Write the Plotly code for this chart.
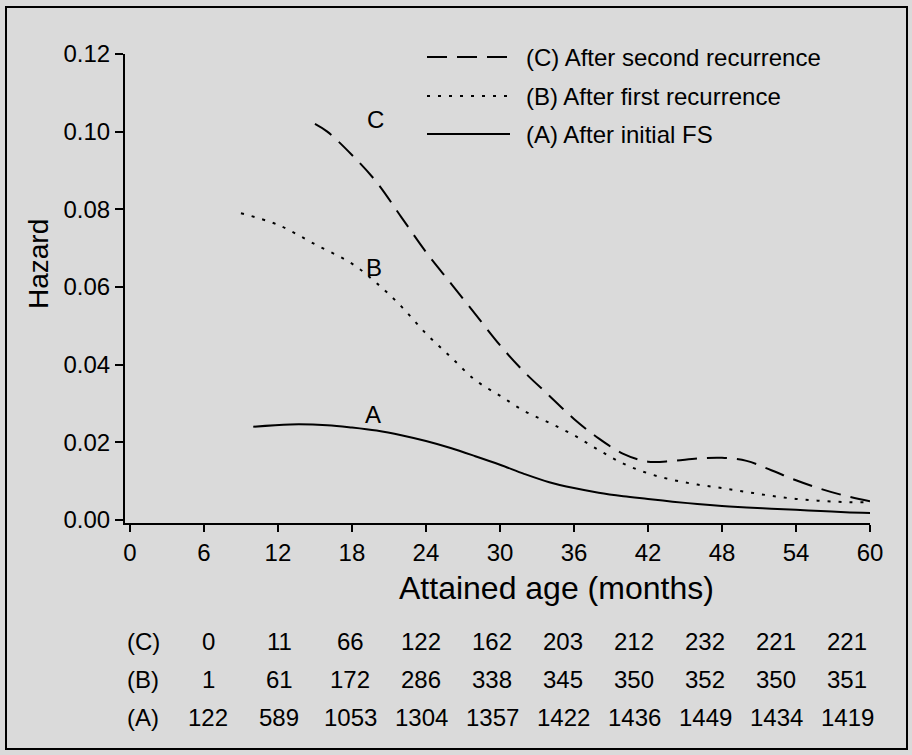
import plotly.graph_objects as go

# ---------------- data ----------------
months_C = [15, 16, 18, 20, 22, 24, 26, 28, 30, 32, 34, 36, 38, 40, 42, 44, 46, 48, 50, 52, 54, 56, 58, 60]
hazard_C = [0.102, 0.100, 0.094, 0.087, 0.078, 0.069, 0.061, 0.053, 0.045, 0.038, 0.032, 0.026, 0.021, 0.0170, 0.0150,
            0.0152, 0.0158, 0.0160, 0.0152, 0.0128, 0.0102, 0.0080, 0.0062, 0.0048]

months_B = [9, 12, 15, 18, 20, 22, 24, 26, 28, 30, 32, 34, 36, 38, 40, 42, 44, 46, 48, 50, 52, 54, 56, 58, 60]
hazard_B = [0.079, 0.076, 0.071, 0.066, 0.061, 0.055, 0.048, 0.042, 0.036, 0.032, 0.028, 0.025, 0.0218, 0.0180, 0.0145,
            0.0120, 0.0103, 0.0091, 0.0082, 0.0072, 0.0062, 0.0054, 0.0049, 0.0046, 0.0045]

months_A = [10, 13, 16, 18, 20, 22, 24, 26, 28, 30, 32, 34, 36, 38, 40, 42, 44, 46, 48, 50, 52, 54, 56, 58, 60]
hazard_A = [0.0240, 0.0246, 0.0244, 0.0238, 0.0230, 0.0218, 0.0203, 0.0185, 0.0164, 0.0142, 0.0118, 0.0097, 0.0082,
            0.0070, 0.0061, 0.0054, 0.0047, 0.0041, 0.0036, 0.0032, 0.0029, 0.0026, 0.0023, 0.0020, 0.0018]

x_ticks = [0, 6, 12, 18, 24, 30, 36, 42, 48, 54, 60]
y_ticks = [0.00, 0.02, 0.04, 0.06, 0.08, 0.10, 0.12]

table_months = [6, 12, 18, 24, 30, 36, 42, 48, 54, 60]
at_risk_C = [0, 11, 66, 122, 162, 203, 212, 232, 221, 221]
at_risk_B = [1, 61, 172, 286, 338, 345, 350, 352, 350, 351]
at_risk_A = [122, 589, 1053, 1304, 1357, 1422, 1436, 1449, 1434, 1419]

legend_labels = ["(C) After second recurrence", "(B) After first recurrence", "(A) After initial FS"]
curve_labels = ["C", "B", "A"]

# ---------------- layout geometry (pixels) ----------------
W, H = 912, 755
L, R, T, B = 125, 870, 54, 523
FONT = "Liberation Sans, Arial, Helvetica, sans-serif"
BG = "#dadada"


def px(xp):
    return (xp - L) / (R - L)


def py(yp):
    return (B - yp) / (B - T)


fig = go.Figure()
line_styles = ["20px,10px", "3px,8px", "solid"]
for xs, ys, dash in [(months_C, hazard_C, line_styles[0]),
                     (months_B, hazard_B, line_styles[1]),
                     (months_A, hazard_A, line_styles[2])]:
    fig.add_trace(go.Scatter(x=xs, y=ys, mode="lines", showlegend=False, hoverinfo="skip",
                             line=dict(color="black", width=2, dash=dash, shape="spline", smoothing=1.0)))

ann = []
label_pos = {"C": (19.9, 0.1032), "B": (19.8, 0.0650), "A": (19.7, 0.0272)}
for lab in curve_labels:
    xv, yv = label_pos[lab]
    ann.append(dict(x=xv, y=yv, xref="x", yref="y", text=lab, showarrow=False,
                    font=dict(family=FONT, size=24, color="black")))

# manual legend
leg_y = [57, 96, 134]
shapes = []
for i, (lab, dash) in enumerate(zip(legend_labels, line_styles)):
    shapes.append(dict(type="line", xref="paper", yref="paper",
                       x0=px(427), x1=px(510), y0=py(leg_y[i]), y1=py(leg_y[i]),
                       line=dict(color="black", width=2, dash=dash)))
    ann.append(dict(x=px(524), y=py(leg_y[i]), xref="paper", yref="paper", text=lab,
                    showarrow=False, xanchor="left", yanchor="middle",
                    font=dict(family=FONT, size=24, color="black")))

# at-risk table
row_y = [641, 679, 717]
col_centers = [208 + 71 * i for i in range(len(table_months))]
for lab, vals, yy in zip(["(C)", "(B)", "(A)"], [at_risk_C, at_risk_B, at_risk_A], row_y):
    ann.append(dict(x=px(143), y=py(yy), xref="paper", yref="paper", text=lab, showarrow=False,
                    xanchor="center", yanchor="middle", font=dict(family=FONT, size=24, color="black")))
    for cx, v in zip(col_centers, vals):
        ann.append(dict(x=px(cx), y=py(yy), xref="paper", yref="paper", text=str(v), showarrow=False,
                        xanchor="center", yanchor="middle", font=dict(family=FONT, size=24, color="black")))

# axis titles
ann.append(dict(x=px(556), y=py(588), xref="paper", yref="paper", text="Attained age (months)",
                showarrow=False, xanchor="center", yanchor="middle",
                font=dict(family=FONT, size=32, color="black")))
ann.append(dict(x=px(38), y=py(264), xref="paper", yref="paper", text="Hazard", textangle=-90,
                showarrow=False, xanchor="center", yanchor="middle",
                font=dict(family=FONT, size=28, color="black")))

# outer frame
shapes.append(dict(type="rect", xref="paper", yref="paper",
                   x0=px(6), x1=px(907), y0=py(749), y1=py(7),
                   line=dict(color="black", width=2), fillcolor="rgba(0,0,0,0)", layer="above"))

fig.update_layout(
    width=W, height=H,
    margin=dict(l=L, r=W - R, t=T, b=H - B, pad=0),
    paper_bgcolor=BG, plot_bgcolor=BG,
    font=dict(family=FONT, size=24, color="black"),
    annotations=ann, shapes=shapes,
    xaxis=dict(range=[-0.4, 60], showgrid=False, zeroline=False, showline=True, linecolor="black",
               linewidth=2, ticks="outside", ticklen=7, tickwidth=2, tickcolor="black",
               tickvals=x_ticks, ticktext=[str(v) for v in x_ticks], tickfont=dict(size=24)),
    yaxis=dict(range=[-0.0008, 0.12], showgrid=False, zeroline=False, showline=True, linecolor="black",
               linewidth=2, ticks="outside", ticklen=8, tickwidth=2, tickcolor="black",
               tickvals=y_ticks, ticktext=["%.2f" % v for v in y_ticks], tickfont=dict(size=24)),
)

fig.write_html("out.html")
